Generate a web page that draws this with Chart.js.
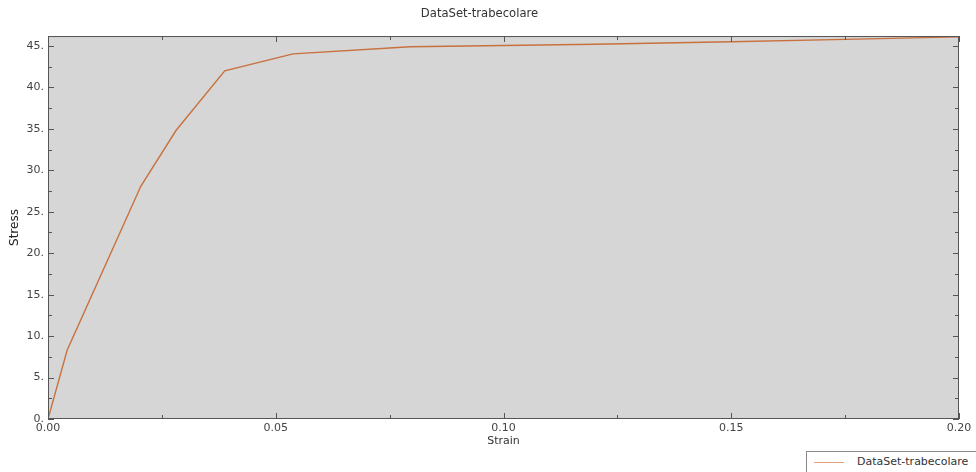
<!DOCTYPE html>
<html>
<head>
<meta charset="utf-8">
<script src="https://cdn.jsdelivr.net/npm/chart.js@4/dist/chart.umd.min.js"></script>
<style>
  html, body { margin: 0; padding: 0; background: #fff; }
  #wrap { position: relative; width: 976px; height: 472px; overflow: hidden; }
  #legend {
    position: absolute; left: 806px; top: 451px; width: 180px; height: 22px;
    border: 1px solid #8a8a8a; background: #fff; box-sizing: border-box;
    font: 11px "DejaVu Sans", sans-serif; color: #333;
  }
  #legend .swatch { position: absolute; left: 7px; top: 10px; width: 30px; height: 0; border-top: 1px solid #e0a07c; }
  #legend .lbl { position: absolute; left: 50px; top: 3px; white-space: nowrap; }
</style>
</head>
<body>
<div id="wrap">
  <canvas id="chart" width="976" height="472"></canvas>
  <div id="legend"><span class="swatch"></span><span class="lbl">DataSet-trabecolare</span></div>
</div>
<script>
const strain = [0, 0.0042, 0.0204, 0.0281, 0.0388, 0.0538, 0.0795, 0.10, 0.12, 0.15, 0.175, 0.20];
const stress = [0, 8.3, 28.1, 34.8, 42.0, 44.05, 44.9, 45.05, 45.2, 45.5, 45.8, 46.1];
const xMajor = [0, 0.05, 0.10, 0.15, 0.20];
const xMinor = [0.025, 0.075, 0.125, 0.175];
const yMajor = [0, 5, 10, 15, 20, 25, 30, 35, 40, 45];
const yMinor = [2.5, 7.5, 12.5, 17.5, 22.5, 27.5, 32.5, 37.5, 42.5];

const FONT = '"DejaVu Sans", Verdana, sans-serif';

// grey plot area + frame + inward ticks
const frame = {
  id: 'frame',
  beforeDatasetsDraw(chart) {
    const {ctx, chartArea: a} = chart;
    ctx.save();
    ctx.fillStyle = '#d6d6d6';
    ctx.fillRect(a.left, a.top, a.right - a.left, a.bottom - a.top);
    ctx.restore();
  },
  afterDatasetsDraw(chart) {
    const {ctx, chartArea: a, scales: {x, y}} = chart;
    ctx.save();
    ctx.strokeStyle = '#555';
    ctx.lineWidth = 1;
    ctx.strokeRect(a.left + 0.5, a.top + 0.5, a.right - a.left - 1, a.bottom - a.top - 1);
    ctx.beginPath();
    const tx = (v, len) => {
      const px = Math.round(x.getPixelForValue(v)) + 0.5;
      ctx.moveTo(px, a.bottom); ctx.lineTo(px, a.bottom - len);
      ctx.moveTo(px, a.top); ctx.lineTo(px, a.top + len);
    };
    const ty = (v, len) => {
      const py = Math.round(y.getPixelForValue(v)) + 0.5;
      ctx.moveTo(a.left, py); ctx.lineTo(a.left + len, py);
      ctx.moveTo(a.right, py); ctx.lineTo(a.right - len, py);
    };
    xMajor.forEach(v => tx(v, 6));
    xMinor.forEach(v => tx(v, 4));
    yMajor.forEach(v => ty(v, 6));
    yMinor.forEach(v => ty(v, 4));
    ctx.stroke();
    ctx.restore();
  }
};

new Chart(document.getElementById('chart'), {
  type: 'scatter',
  data: {
    datasets: [{
      label: 'DataSet-trabecolare',
      data: strain.map((s, i) => ({x: s, y: stress[i]})),
      showLine: true,
      borderColor: '#c8703e',
      borderWidth: 1.4,
      pointRadius: 0,
      tension: 0
    }]
  },
  options: {
    responsive: false,
    animation: false,
    layout: { padding: { left: 0, right: 17, top: 0, bottom: 24 } },
    plugins: {
      legend: { display: false },
      tooltip: { enabled: false },
      title: {
        display: true,
        text: 'DataSet-trabecolare',
        color: '#333',
        font: { family: FONT, size: 11.6, weight: 'normal' },
        padding: { top: 7, bottom: 15.1 }
      }
    },
    scales: {
      x: {
        type: 'linear',
        min: 0, max: 0.2,
        afterFit: s => { s.height = 29; },
        afterBuildTicks: s => { s.ticks = xMajor.map(v => ({value: v})); },
        grid: { display: false, drawTicks: false },
        border: { display: false },
        ticks: {
          padding: 3, color: '#444', maxRotation: 0, autoSkip: false,
          font: { family: FONT, size: 11 },
          callback: v => Number(v).toFixed(2)
        },
        title: {
          display: true, text: 'Strain', color: '#333',
          font: { family: FONT, size: 11 }, padding: 0
        }
      },
      y: {
        type: 'linear',
        min: 0, max: 46.2,
        afterFit: s => { s.width = 48; },
        afterBuildTicks: s => { s.ticks = yMajor.map(v => ({value: v})); },
        grid: { display: false, drawTicks: false },
        border: { display: false },
        ticks: {
          padding: 4, color: '#444', autoSkip: false,
          font: { family: FONT, size: 11 },
          callback: v => v + '.'
        },
        title: {
          display: true, text: 'Stress', color: '#222',
          font: { family: FONT, size: 12 }, padding: { top: 8, bottom: 0 }
        }
      }
    }
  },
  plugins: [frame]
});
</script>
</body>
</html>
